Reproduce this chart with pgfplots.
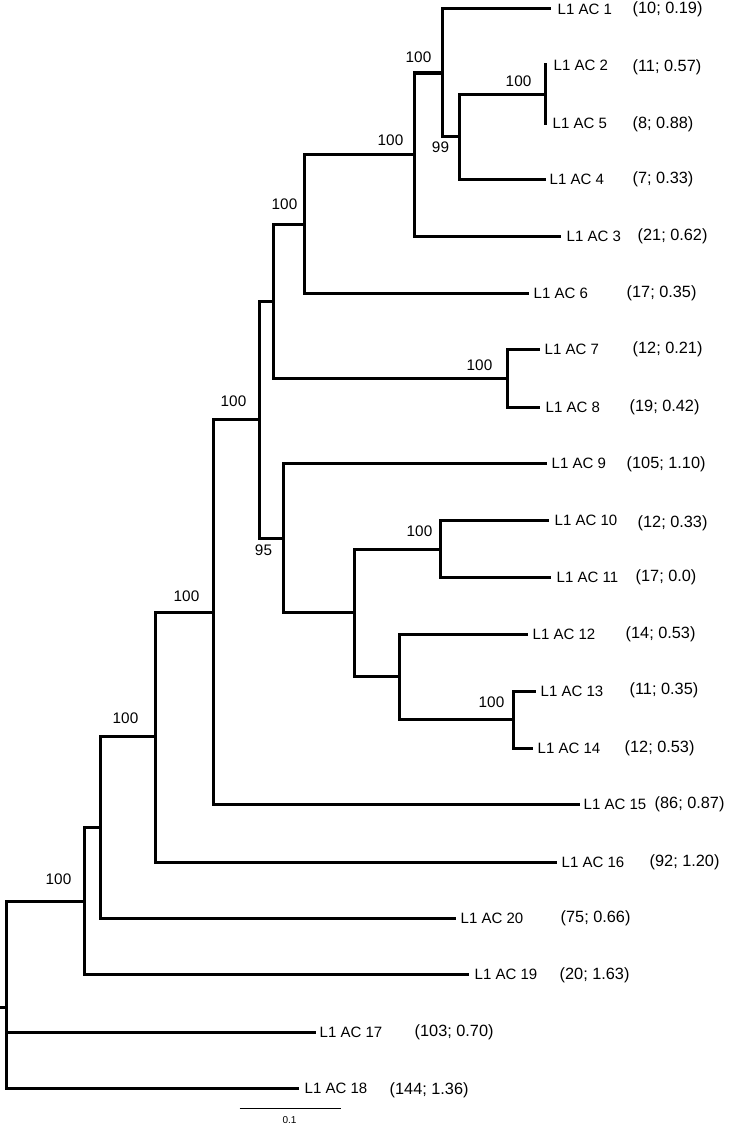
\documentclass[border=0pt]{standalone}
\usepackage{pgfplots}
\pgfplotsset{compat=1.18}
\usepackage{fontspec}
\setmainfont{Liberation Sans}
\tikzset{
  br/.style={black, line width=3pt, line join=miter, line cap=rect},
  lab/.style={anchor=base west, inner sep=0pt, font=\fontsize{15}{18}\selectfont},
  cnt/.style={anchor=base west, inner sep=0pt, font=\fontsize{16.3}{19}\selectfont},
  bs/.style={anchor=center, inner sep=0pt, font=\fontsize{15.3}{18}\selectfont},
}
\begin{document}
\begin{tikzpicture}
\begin{axis}[
  width=728pt, height=1124pt, scale only axis,
  xmin=0, xmax=728, ymin=0, ymax=1124, y dir=reverse,
  hide axis, clip=false,
]
\addplot[draw=none, mark=none] coordinates {(0,0) (728,1124)};
% root
\addplot[br, mark=none] coordinates {(83,901) (5,901) (5,1088) (296,1088)};
\addplot[br, mark=none] coordinates {(5,1032) (313,1032)};
\addplot[br, mark=none] coordinates {(0,1007) (5,1007)};
% A
\addplot[br, mark=none] coordinates {(99,827) (83,827) (83,974) (466,974)};
% B
\addplot[br, mark=none] coordinates {(154,736) (99,736) (99,918) (453,918)};
% C
\addplot[br, mark=none] coordinates {(212,612) (154,612) (154,862) (554,862)};
% D
\addplot[br, mark=none] coordinates {(258,419) (212,419) (212,804) (577,804)};
% E
\addplot[br, mark=none] coordinates {(272,301) (258,301) (258,538) (282,538)};
% F
\addplot[br, mark=none] coordinates {(303,224) (272,224) (272,378) (506,378)};
% H
\addplot[br, mark=none] coordinates {(413,154) (303,154) (303,293) (526,293)};
% J
\addplot[br, mark=none] coordinates {(441,73) (413,73) (413,236) (558,236)};
% K
\addplot[br, mark=none] coordinates {(548,9) (441,9) (441,136) (458,136)};
% L
\addplot[br, mark=none] coordinates {(544,94) (458,94) (458,179) (543,179)};
% M
\addplot[br, mark=none] coordinates {(544,65) (544,123)};
% I
\addplot[br, mark=none] coordinates {(537,349) (506,349) (506,407) (537,407)};
% G
\addplot[br, mark=none] coordinates {(544,463) (282,463) (282,612) (353,612)};
% N
\addplot[br, mark=none] coordinates {(439,549) (353,549) (353,676) (398,676)};
% O
\addplot[br, mark=none] coordinates {(546,520) (439,520) (439,577) (548,577)};
% P
\addplot[br, mark=none] coordinates {(525,634) (398,634) (398,719) (512,719)};
% Q
\addplot[br, mark=none] coordinates {(533,691) (512,691) (512,748) (530,748)};
% scale bar
\addplot[black, line width=1pt, mark=none] coordinates {(238,1108) (339,1108)};
\node[anchor=center, inner sep=0pt, font=\fontsize{10}{12}\selectfont] at (axis cs:288,1120) {0.1};

% leaf names
\node[lab] at (axis cs:556,14.4) {L1 AC 1};
\node[lab] at (axis cs:552,70.4) {L1 AC 2};
\node[lab] at (axis cs:551,128.4) {L1 AC 5};
\node[lab] at (axis cs:548,184.4) {L1 AC 4};
\node[lab] at (axis cs:565,241.4) {L1 AC 3};
\node[lab] at (axis cs:532,298.4) {L1 AC 6};
\node[lab] at (axis cs:543,354.4) {L1 AC 7};
\node[lab] at (axis cs:544,412.4) {L1 AC 8};
\node[lab] at (axis cs:550,468.4) {L1 AC 9};
\node[lab] at (axis cs:553,525.4) {L1 AC 10};
\node[lab] at (axis cs:555,582.4) {L1 AC 11};
\node[lab] at (axis cs:531,639.4) {L1 AC 12};
\node[lab] at (axis cs:539,696.4) {L1 AC 13};
\node[lab] at (axis cs:536,753.4) {L1 AC 14};
\node[lab] at (axis cs:582,809.4) {L1 AC 15};
\node[lab] at (axis cs:560,867.4) {L1 AC 16};
\node[lab] at (axis cs:459,923.4) {L1 AC 20};
\node[lab] at (axis cs:473,979.4) {L1 AC 19};
\node[lab] at (axis cs:318,1037.4) {L1 AC 17};
\node[lab] at (axis cs:303,1093.4) {L1 AC 18};
% counts
\node[cnt] at (axis cs:631,14) {(10; 0.19)};
\node[cnt] at (axis cs:631,71) {(11; 0.57)};
\node[cnt] at (axis cs:631,128) {(8; 0.88)};
\node[cnt] at (axis cs:631,183) {(7; 0.33)};
\node[cnt] at (axis cs:636,240) {(21; 0.62)};
\node[cnt] at (axis cs:625,297) {(17; 0.35)};
\node[cnt] at (axis cs:631,353) {(12; 0.21)};
\node[cnt] at (axis cs:628,411) {(19; 0.42)};
\node[cnt] at (axis cs:625,468) {(105; 1.10)};
\node[cnt] at (axis cs:636,527) {(12; 0.33)};
\node[cnt] at (axis cs:634,581) {(17; 0.0)};
\node[cnt] at (axis cs:624,638) {(14; 0.53)};
\node[cnt] at (axis cs:628,694) {(11; 0.35)};
\node[cnt] at (axis cs:623,752) {(12; 0.53)};
\node[cnt] at (axis cs:653,808) {(86; 0.87)};
\node[cnt] at (axis cs:648,866) {(92; 1.20)};
\node[cnt] at (axis cs:559,922) {(75; 0.66)};
\node[cnt] at (axis cs:558,979) {(20; 1.63)};
\node[cnt] at (axis cs:413,1036) {(103; 0.70)};
\node[cnt] at (axis cs:388,1094) {(144; 1.36)};
% bootstrap values
\node[bs] at (axis cs:417,57) {100};
\node[bs] at (axis cs:517,81) {100};
\node[bs] at (axis cs:439,147) {99};
\node[bs] at (axis cs:389,140) {100};
\node[bs] at (axis cs:283,204) {100};
\node[bs] at (axis cs:478,365) {100};
\node[bs] at (axis cs:262,550) {95};
\node[bs] at (axis cs:232,401) {100};
\node[bs] at (axis cs:185,596) {100};
\node[bs] at (axis cs:124,718) {100};
\node[bs] at (axis cs:57,879) {100};
\node[bs] at (axis cs:418,531) {100};
\node[bs] at (axis cs:490,702) {100};
\end{axis}
\end{tikzpicture}
\end{document}
